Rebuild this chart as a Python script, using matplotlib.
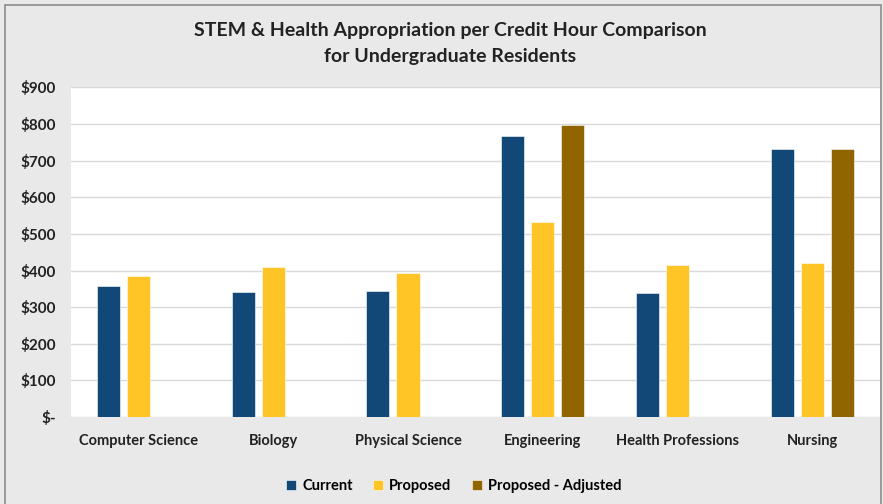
import matplotlib.pyplot as plt
import numpy as np
from matplotlib.patches import Rectangle

categories = ['Computer Science', 'Biology', 'Physical Science',
              'Engineering', 'Health Professions', 'Nursing']
current = [357, 342, 345, 768, 340, 733]
proposed = [384, 410, 394, 533, 416, 422]
adjusted = [np.nan, np.nan, np.nan, 797, np.nan, 733]

series_names = ['Current', 'Proposed', 'Proposed - Adjusted']
colors = ['#124877', '#FFC526', '#906500']

plt.rcParams['font.family'] = ['Lato', 'DejaVu Sans']

fig = plt.figure(figsize=(8.83, 5.04), dpi=100, facecolor='#e9e9e9')
# outer chart border
fig.patches.append(Rectangle((0.0057, -0.01), 0.992, 1.0, transform=fig.transFigure,
                             fill=False, edgecolor='#8c8c8c', linewidth=1.2))
ax = fig.add_axes([0.0804, 0.1726, 0.916, 0.6538])
ax.set_facecolor('white')

x = np.arange(len(categories))
w = 0.171
off = 0.223
for i, (vals, name, c) in enumerate(zip([current, proposed, adjusted], series_names, colors)):
    ax.bar(x + (i - 1) * off, vals, width=w, color=c, label=name,
           edgecolor='#ffffff', linewidth=0.4, zorder=3)

ax.set_xlim(-0.5, len(categories) - 0.5)
ax.set_ylim(0, 900)
ax.set_yticks(range(0, 901, 100))
ax.set_yticklabels(['$-'] + ['$%d' % v for v in range(100, 901, 100)],
                   fontsize=11, fontweight='bold', color='#222222')
ax.set_xticks(x)
ax.set_xticklabels(categories, fontsize=10.5, fontweight='bold', color='#222222')
ax.tick_params(axis='both', length=0)
ax.tick_params(axis='y', pad=11)
ax.tick_params(axis='x', pad=12)
ax.grid(axis='y', color='#d9d9d9', linewidth=1, zorder=0)
for s in ax.spines.values():
    s.set_visible(False)

fig.text(0.51, 0.94, 'STEM & Health Appropriation per Credit Hour Comparison',
         ha='center', va='center', fontsize=14, fontweight='bold', color='#222222')
fig.text(0.51, 0.887, 'for Undergraduate Residents',
         ha='center', va='center', fontsize=14, fontweight='bold', color='#222222')

fig.legend(loc='center', bbox_to_anchor=(0.514, 0.036), ncol=3, frameon=False,
           prop={'weight': 'bold', 'size': 10.5},
           handlelength=0.7, handleheight=0.7, handletextpad=0.4, columnspacing=1.4)

fig.savefig('out.png', dpi=100, facecolor=fig.get_facecolor())
